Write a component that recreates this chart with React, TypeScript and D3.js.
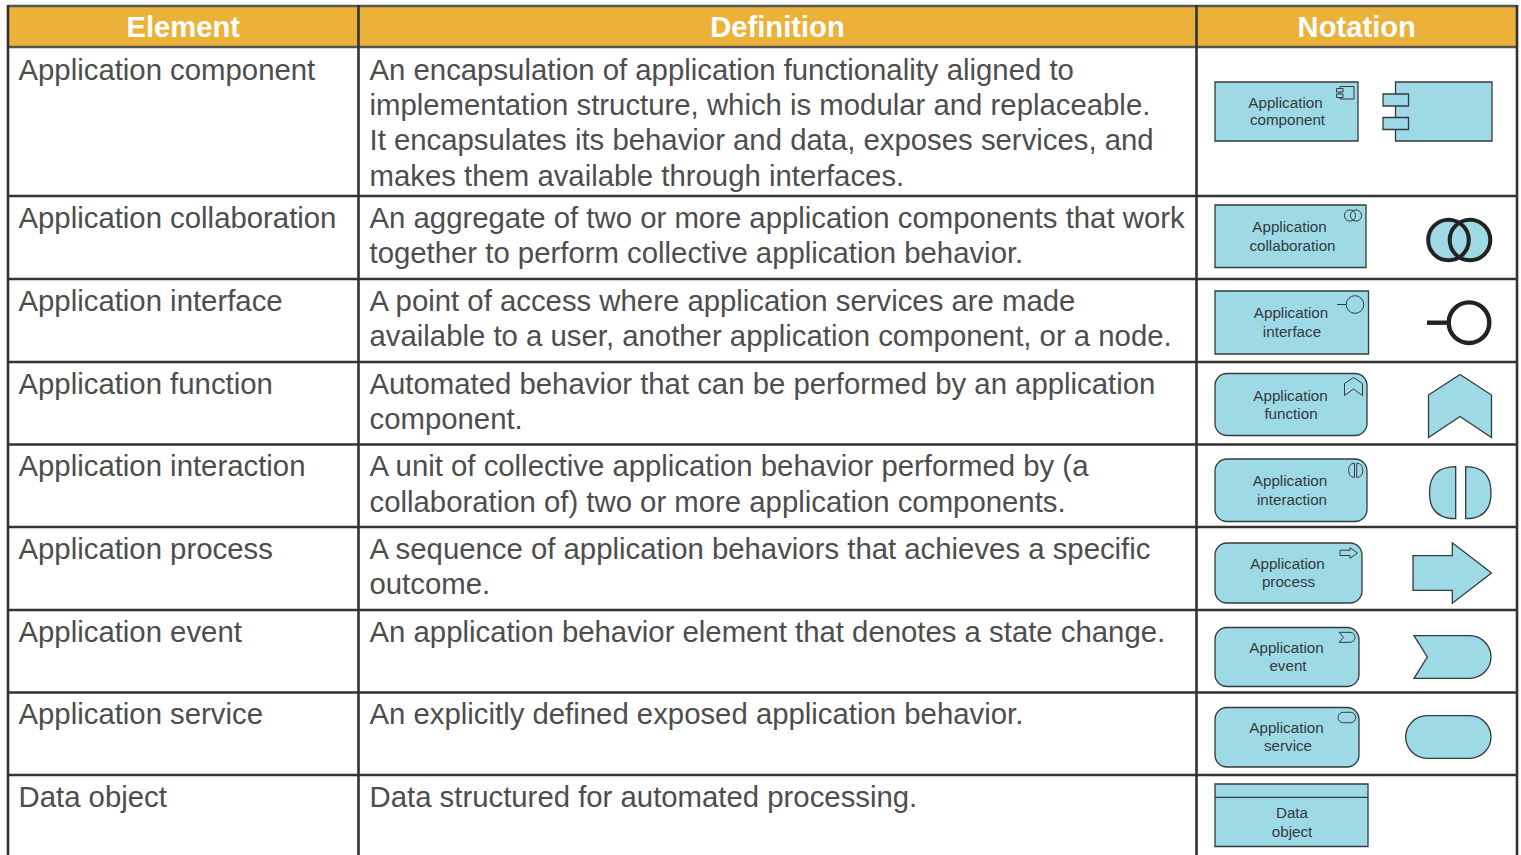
import React, { useEffect, useRef } from 'react';
import * as d3 from 'd3';

const headers = ['Element', 'Definition', 'Notation'];
const elements = [
  'Application component',
  'Application collaboration',
  'Application interface',
  'Application function',
  'Application interaction',
  'Application process',
  'Application event',
  'Application service',
  'Data object',
];
const definitions = [
  [
    'An encapsulation of application functionality aligned to',
    'implementation structure, which is modular and replaceable.',
    'It encapsulates its behavior and data, exposes services, and',
    'makes them available through interfaces.',
  ],
  ['An aggregate of two or more application components that work', 'together to perform collective application behavior.'],
  ['A point of access where application services are made', 'available to a user, another application component, or a node.'],
  ['Automated behavior that can be performed by an application', 'component.'],
  ['A unit of collective application behavior performed by (a', 'collaboration of) two or more application components.'],
  ['A sequence of application behaviors that achieves a specific', 'outcome.'],
  ['An application behavior element that denotes a state change.'],
  ['An explicitly defined exposed application behavior.'],
  ['Data structured for automated processing.'],
];
const notationLabels = [
  ['Application', 'component'],
  ['Application', 'collaboration'],
  ['Application', 'interface'],
  ['Application', 'function'],
  ['Application', 'interaction'],
  ['Application', 'process'],
  ['Application', 'event'],
  ['Application', 'service'],
  ['Data', 'object'],
];

// layout
const W = 1521;
const H = 855;
const colEdges = [8, 358.5, 1196.5, 1517];
const rowEdges = [47, 196, 279, 362, 444.5, 527, 610, 692.5, 775];
const firstBaseline = [80, 228, 311, 394, 476.4, 559, 642, 724, 807];
const lineStep = 35.2;
const BLUE = '#9ed9e6';
const INK = '#333a3e';
const TEXT = '#4d4d4d';

// x0, y0, x1, y1, corner radius of the labelled box in each row
const boxes: [number, number, number, number, number][] = [
  [1215, 82, 1358, 141, 0],
  [1215, 205, 1366, 267.5, 0],
  [1215, 291, 1368.5, 354, 0],
  [1215, 373.5, 1367, 435.5, 12],
  [1215, 459, 1367, 521.5, 12],
  [1215, 543, 1362, 603, 12],
  [1215, 627.5, 1359, 686.5, 12],
  [1215, 707.5, 1359, 767, 12],
  [1215, 784, 1368, 846.5, 0],
];
// centre x and baseline y for both lines of the box labels
const labelPos: [number, number, number, number][] = [
  [1285.5, 108, 1287.5, 125],
  [1289.5, 232, 1292.5, 251],
  [1291, 318, 1292, 337],
  [1290.5, 401, 1291, 419],
  [1290, 486, 1292, 505],
  [1287.5, 569, 1288.5, 587],
  [1286.5, 653, 1288, 671],
  [1286.5, 733, 1288, 751],
  [1292, 818, 1292, 837],
];

function polygon(points: [number, number][]) {
  const p = d3.path();
  points.forEach(([x, y], i) => (i ? p.lineTo(x, y) : p.moveTo(x, y)));
  p.closePath();
  return p.toString();
}

function roundRect(x0: number, y0: number, x1: number, y1: number, r: number) {
  const p = d3.path();
  if (!r) {
    p.rect(x0, y0, x1 - x0, y1 - y0);
    return p.toString();
  }
  p.moveTo(x0 + r, y0);
  p.arcTo(x1, y0, x1, y1, r);
  p.arcTo(x1, y1, x0, y1, r);
  p.arcTo(x0, y1, x0, y0, r);
  p.arcTo(x0, y0, x1, y0, r);
  p.closePath();
  return p.toString();
}

// half disc with the flat side on x0, bulging towards x1
function halfDisc(x0: number, x1: number, y0: number, y1: number) {
  const r = (y1 - y0) / 2;
  const k = Math.abs(x1 - x0);
  const p = d3.path();
  p.moveTo(x0, y0);
  p.bezierCurveTo(x0 + Math.sign(x1 - x0) * k * 0.75, y0, x1, y0 + r * 0.45, x1, y0 + r);
  p.bezierCurveTo(x1, y1 - r * 0.45, x0 + Math.sign(x1 - x0) * k * 0.75, y1, x0, y1);
  p.closePath();
  return p.toString();
}

function eventShape(x0: number, notch: number, xr: number, y0: number, y1: number) {
  const r = (y1 - y0) / 2;
  const p = d3.path();
  p.moveTo(x0, y0);
  p.lineTo(xr - r, y0);
  p.arc(xr - r, y0 + r, r, -Math.PI / 2, Math.PI / 2);
  p.lineTo(x0, y1);
  p.lineTo(notch, y0 + r);
  p.closePath();
  return p.toString();
}

export default function App() {
  const ref = useRef<SVGSVGElement>(null);

  useEffect(() => {
    if (!ref.current) return;
    const svg = d3.select(ref.current);
    svg.selectAll('*').remove();

    const colX = d3.scaleOrdinal<string, number>(headers, colEdges);
    const rowY = d3.scaleOrdinal<string, number>(elements, rowEdges);
    const baseline = d3.scaleOrdinal<string, number>(elements, firstBaseline);

    // header band
    svg.append('rect')
      .attr('x', colEdges[0]).attr('y', 6)
      .attr('width', colEdges[3] - colEdges[0]).attr('height', rowEdges[0] - 6)
      .attr('fill', '#ecb138');

    svg.selectAll('text.head')
      .data(headers)
      .enter()
      .append('text')
      .attr('class', 'head')
      .attr('x', (d, i) => (colEdges[i] + colEdges[i + 1]) / 2)
      .attr('y', 37)
      .attr('text-anchor', 'middle')
      .attr('font-size', 29.2)
      .attr('font-weight', 700)
      .attr('fill', '#fff')
      .text((d) => d);

    // element names
    svg.selectAll('text.element')
      .data(elements)
      .enter()
      .append('text')
      .attr('class', 'element')
      .attr('x', colX('Element') + 10.5)
      .attr('y', (d) => baseline(d))
      .attr('font-size', 29.33)
      .attr('fill', TEXT)
      .text((d) => d);

    // definitions, one text per wrapped line
    elements.forEach((el, i) => {
      svg.append('g')
        .selectAll('text')
        .data(definitions[i])
        .enter()
        .append('text')
        .attr('x', colX('Definition') + 11)
        .attr('y', (d, j) => baseline(el) + j * lineStep)
        .attr('font-size', 29.33)
        .attr('fill', TEXT)
        .text((d) => d);
    });

    // grid
    const grid = svg.append('g').attr('stroke', '#333').attr('stroke-width', 2.6);
    grid.append('line').attr('x1', colEdges[0]).attr('x2', colEdges[3]).attr('y1', 6).attr('y2', 6).attr('stroke', '#555');
    grid.selectAll('line.row')
      .data(elements)
      .enter()
      .append('line')
      .attr('class', 'row')
      .attr('x1', colEdges[0]).attr('x2', colEdges[3])
      .attr('y1', (d) => rowY(d)).attr('y2', (d) => rowY(d))
      .attr('stroke', (d, i) => (i ? '#333' : '#555'));
    grid.selectAll('line.col')
      .data(colEdges)
      .enter()
      .append('line')
      .attr('class', 'col')
      .attr('x1', (d) => d).attr('x2', (d) => d)
      .attr('y1', 5).attr('y2', H);

    // labelled boxes
    const notation = svg.append('g').attr('stroke', INK).attr('stroke-width', 1.3).attr('fill', BLUE);
    const shape = (d: string, sw = 1.3, fill = BLUE) =>
      notation.append('path').attr('d', d).attr('stroke-width', sw).attr('fill', fill);

    boxes.forEach(([x0, y0, x1, y1, r]) => shape(roundRect(x0, y0, x1, y1, r)));

    notationLabels.forEach((lines, i) => {
      const [xa, ya, xb, yb] = labelPos[i];
      svg.append('text').attr('x', xa).attr('y', ya).attr('text-anchor', 'middle')
        .attr('font-size', 15.2).attr('fill', INK).text(lines[0]);
      svg.append('text').attr('x', xb).attr('y', yb).attr('text-anchor', 'middle')
        .attr('font-size', 15.2).attr('fill', INK).text(lines[1]);
    });

    // component
    shape(roundRect(1340, 86.5, 1354, 99, 0), 1, 'none');
    shape(roundRect(1336.5, 88.5, 1343, 92, 0), 1, BLUE);
    shape(roundRect(1336.5, 94, 1343, 97.5, 0), 1, BLUE);
    shape(roundRect(1395.5, 82, 1492, 141, 0));
    shape(roundRect(1383, 94, 1408.5, 106, 0));
    shape(roundRect(1383, 117.5, 1408.5, 129.5, 0));

    // collaboration
    const circle = (cx: number, cy: number, r: number, sw: number, fill = 'none') =>
      notation.append('circle').attr('cx', cx).attr('cy', cy).attr('r', r).attr('stroke-width', sw).attr('fill', fill);
    circle(1350, 215.5, 5.6, 1);
    circle(1356, 215.5, 5.6, 1);
    circle(1448.5, 240, 20.3, 4, BLUE).attr('stroke', 'none');
    circle(1470, 240, 20.3, 4, BLUE).attr('stroke', 'none');
    circle(1448.5, 240, 20.3, 4).attr('stroke', '#222');
    circle(1470, 240, 20.3, 4).attr('stroke', '#222');

    // interface
    circle(1355, 304.5, 8.8, 1, BLUE);
    notation.append('line').attr('x1', 1337).attr('x2', 1346).attr('y1', 304.5).attr('y2', 304.5).attr('stroke-width', 1);
    circle(1469, 322.7, 20.3, 4.4, '#fff').attr('stroke', '#222');
    notation.append('line').attr('x1', 1427).attr('x2', 1447).attr('y1', 322.7).attr('y2', 322.7).attr('stroke-width', 4.4).attr('stroke', '#222');

    // function
    const chevron = (x0: number, x1: number, top: number, sh: number, notch: number, bot: number, sw: number) =>
      shape(polygon([[x0, sh], [(x0 + x1) / 2, top], [x1, sh], [x1, bot], [(x0 + x1) / 2, notch], [x0, bot]]), sw);
    chevron(1344.5, 1362.5, 377.5, 383.5, 389, 395.5, 1);
    chevron(1428.5, 1491.5, 374.5, 395, 416.5, 437.5, 1.3);

    // interaction
    shape(halfDisc(1354.5, 1348.7, 463.3, 477.3), 1);
    shape(halfDisc(1356.7, 1362.7, 463.3, 477.3), 1);
    shape(halfDisc(1455.7, 1429.5, 466.7, 518.7));
    shape(halfDisc(1465.7, 1491, 466.7, 518.7));

    // process
    const arrow = (x0: number, hx: number, x1: number, top: number, bt: number, bb: number, bot: number, sw: number) =>
      shape(polygon([[x0, bt], [hx, bt], [hx, top], [x1, (top + bot) / 2], [hx, bot], [hx, bb], [x0, bb]]), sw);
    arrow(1340, 1350, 1357.5, 547.7, 550.2, 555.5, 558.3, 1);
    arrow(1413, 1452.3, 1491.5, 542.7, 555.7, 590.3, 603.3, 1.3);

    // event
    shape(eventShape(1339, 1343.5, 1355, 632.3, 642.3), 1);
    shape(eventShape(1414, 1427.3, 1491, 635.7, 678.3));

    // service
    shape(roundRect(1338, 712.3, 1355.7, 722.7, 5.2), 1);
    shape(roundRect(1405.7, 715.7, 1491, 758.3, 21.3));

    // data object header line
    notation.append('line').attr('x1', 1215).attr('x2', 1368).attr('y1', 797.3).attr('y2', 797.3);
  }, []);

  return (
    <svg
      ref={ref}
      width={W}
      height={H}
      viewBox={`0 0 ${W} ${H}`}
      style={{ position: 'absolute', left: 0, top: 0, display: 'block', fontFamily: '"Liberation Sans", Arial, sans-serif', background: '#fff' }}
    />
  );
}
